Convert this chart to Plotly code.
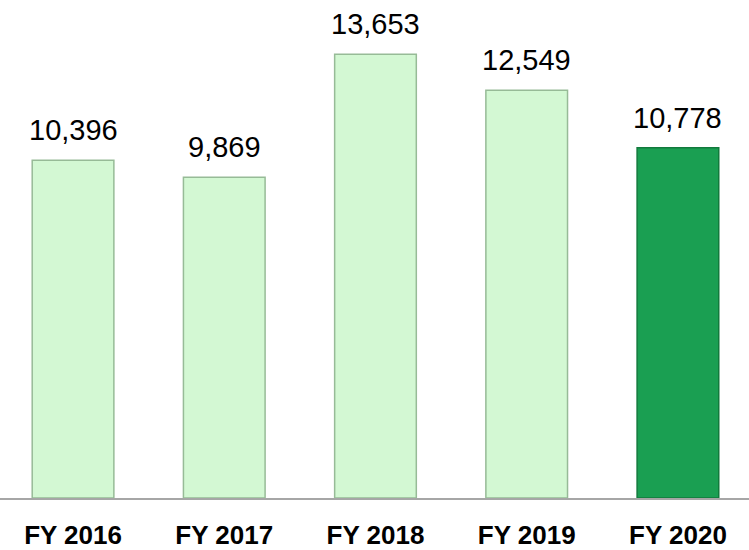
import plotly.graph_objects as go

categories = ["FY 2016", "FY 2017", "FY 2018", "FY 2019", "FY 2020"]
values = [10396, 9869, 13653, 12549, 10778]
value_labels = ["10,396", "9,869", "13,653", "12,549", "10,778"]
bar_colors = ["#d3f8d3", "#d3f8d3", "#d3f8d3", "#d3f8d3", "#1a9f52"]
line_colors = ["#97bb97", "#97bb97", "#97bb97", "#97bb97", "#127a3c"]

fig = go.Figure()
fig.add_trace(go.Bar(
    x=categories, y=values,
    width=0.54,
    marker=dict(color=bar_colors, line=dict(color=line_colors, width=1.5)),
    hoverinfo="skip",
))

for c, v, t in zip(categories, values, value_labels):
    fig.add_annotation(x=c, y=v, text=t, showarrow=False, yanchor="bottom",
                       yshift=12, font=dict(family="Liberation Sans, Arial", size=29, color="#000000"))

fig.update_layout(
    width=749, height=550,
    margin=dict(l=0, r=0, t=0, b=46),
    paper_bgcolor="white", plot_bgcolor="white",
    showlegend=False,
    xaxis=dict(type="category", range=[-0.483, 4.470], showline=True, linecolor="#a6a6a6",
               linewidth=1.5, ticks="", showgrid=False, zeroline=False,
               ticklabelstandoff=13,
               tickfont=dict(family="Liberation Sans, Arial", size=26, color="#000000", weight="bold")),
    yaxis=dict(range=[0, 15325], visible=False, showgrid=False, zeroline=False),
)

fig.write_html("out.html")
